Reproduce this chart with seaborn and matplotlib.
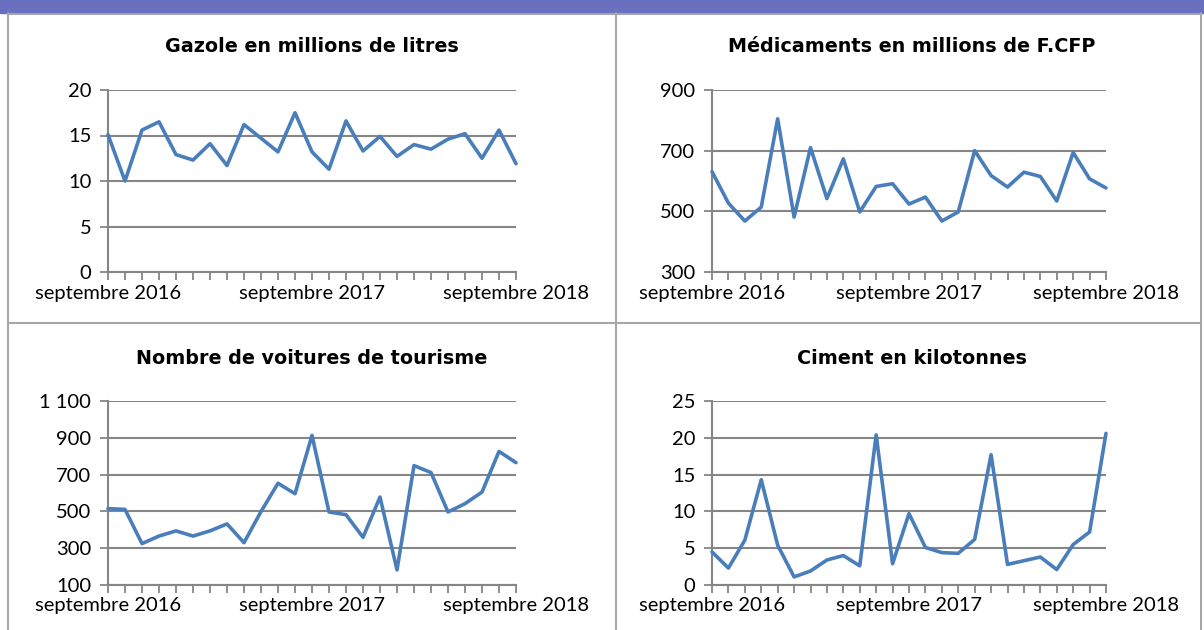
import seaborn as sns
import numpy as np
import matplotlib.pyplot as plt
import pandas as pd
from matplotlib.lines import Line2D
from matplotlib.patches import Rectangle

## monthly series, septembre 2016 -> septembre 2018 (25 months)
months = list(range(25))
tick_labels = {0: "septembre 2016", 12: "septembre 2017", 24: "septembre 2018"}

gazole = [15.1, 10.0, 15.6, 16.5, 12.9, 12.3, 14.1, 11.7, 16.2, 14.7, 13.2, 17.5, 13.2,
          11.3, 16.6, 13.3, 14.9, 12.7, 14.0, 13.5, 14.6, 15.2, 12.5, 15.6, 11.9]
medicaments = [631, 527, 468, 514, 805, 481, 710, 542, 673, 498, 582, 591, 524,
               547, 468, 498, 700, 618, 580, 629, 615, 534, 694, 607, 577]
voitures = [515, 511, 325, 366, 394, 366, 394, 432, 330, 499, 653, 596, 913,
            497, 482, 359, 578, 182, 749, 711, 497, 542, 605, 826, 765]
ciment = [4.5, 2.3, 6.1, 14.3, 5.4, 1.1, 1.9, 3.4, 4.0, 2.6, 20.4, 2.9, 9.7,
          5.1, 4.4, 4.3, 6.2, 17.7, 2.8, 3.3, 3.8, 2.1, 5.5, 7.2, 20.6]

titles = ["Gazole en millions de litres", "Médicaments en millions de F.CFP",
          "Nombre de voitures de tourisme", "Ciment en kilotonnes"]
yticks = [[0, 5, 10, 15, 20], [300, 500, 700, 900],
          [100, 300, 500, 700, 900, 1100], [0, 5, 10, 15, 20, 25]]
ytick_labels = [["0", "5", "10", "15", "20"], ["300", "500", "700", "900"],
                ["100", "300", "500", "700", "900", "1 100"], ["0", "5", "10", "15", "20", "25"]]
series = [gazole, medicaments, voitures, ciment]

sns.set_theme(style="white")
plt.rcParams['font.family'] = ['Lato', 'DejaVu Sans']

W, H = 1204, 630
fig = plt.figure(figsize=(W / 100, H / 100), dpi=100)

# header bar and panel borders
fig.patches.append(Rectangle((0, 1 - 13 / H), 1, 13 / H, transform=fig.transFigure,
                             color="#6870bf", zorder=0))
border = "#a6a6a6"
for x in [8, 616, 1201]:
    fig.lines.append(Line2D([x / W, x / W], [0, 1 - 13 / H], transform=fig.transFigure,
                            color=border, lw=1.5))
for y in [14, 323]:
    fig.lines.append(Line2D([8 / W, 1201 / W], [1 - y / H, 1 - y / H], transform=fig.transFigure,
                            color=border, lw=1.5))

# axes boxes in pixels: left, right, top, bottom
boxes = [(108, 516, 90, 272), (712, 1106, 90, 272),
         (108, 516, 401, 585), (712, 1106, 401, 585)]
title_pos = [(312, 46), (912, 46), (312, 358), (912, 358)]

grid_col = "#868686"
line_col = "#4a7ebb"

for i in range(4):
    l, r, t, b = boxes[i]
    ax = fig.add_axes([l / W, 1 - b / H, (r - l) / W, (b - t) / H])
    df = pd.DataFrame({"mois": months, "valeur": series[i]})
    sns.lineplot(data=df, x="mois", y="valeur", ax=ax, color=line_col, lw=2.6,
                 clip_on=False, zorder=5)
    ax.set_xlim(0, 24)
    ax.set_ylim(yticks[i][0], yticks[i][-1])
    ax.set_yticks(yticks[i])
    ax.set_yticklabels(ytick_labels[i], fontsize=14.5)
    ax.set_xticks(months)
    ax.set_xticklabels([tick_labels.get(m, "") for m in months], fontsize=14.5)
    ax.set_xlabel("")
    ax.set_ylabel("")
    ax.grid(axis="y", color=grid_col, lw=1.5)
    ax.set_axisbelow(True)
    for s in ["top", "right"]:
        ax.spines[s].set_visible(False)
    ax.spines["left"].set_color(grid_col)
    ax.spines["bottom"].set_color(grid_col)
    ax.spines["left"].set_linewidth(1.5)
    ax.spines["bottom"].set_linewidth(1.5)
    ax.tick_params(axis="both", direction="out", length=6, width=1.3, color=grid_col,
                   labelcolor="black", bottom=True, left=True)
    ax.tick_params(axis="x", pad=3)
    ax.tick_params(axis="y", pad=6)
    fig.text(title_pos[i][0] / W, 1 - title_pos[i][1] / H, titles[i], ha="center", va="center",
             fontsize=13.8, fontweight="bold", family="DejaVu Sans", color="black")

fig.savefig("out.png", dpi=100)
